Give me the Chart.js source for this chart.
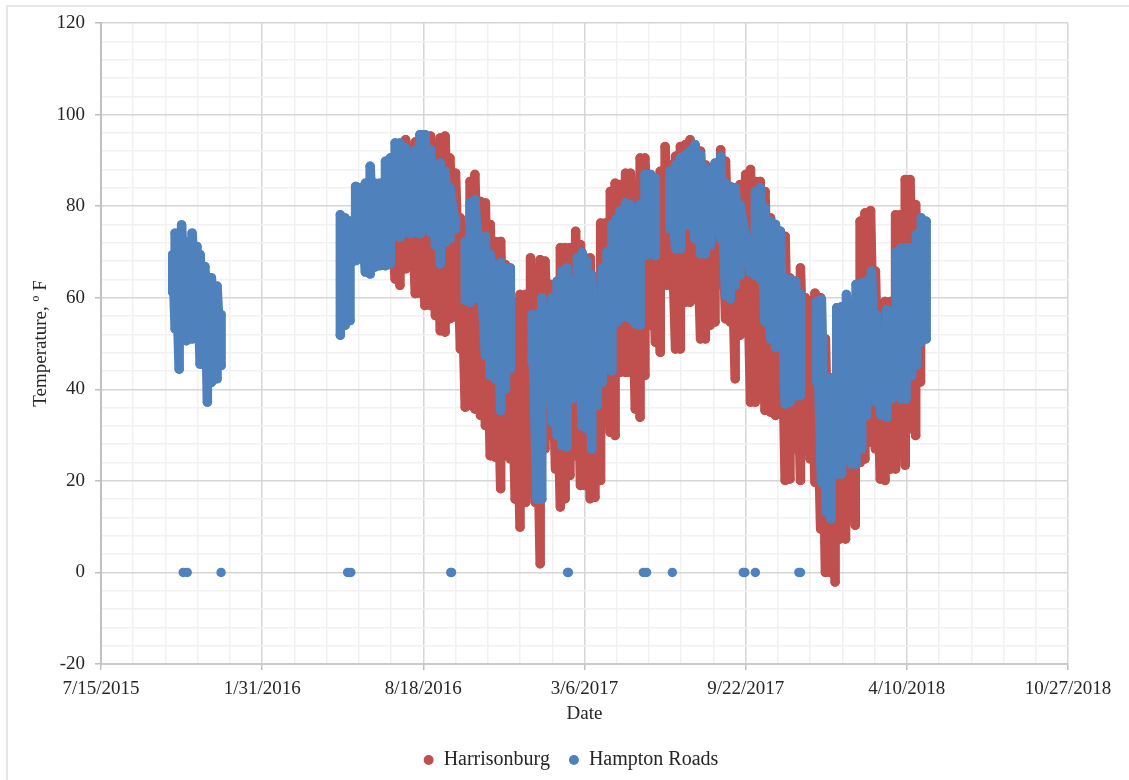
<!DOCTYPE html>
<html>
<head>
<meta charset="utf-8">
<style>
  html, body { margin: 0; background: #fff; overflow: hidden; }
  #wrap { position: relative; width: 1129px; height: 780px; overflow: hidden; }
  #frame { position: absolute; left: 6px; top: 5px; width: 1200px; height: 900px; border: 2px solid #e6e6e6; }
  canvas { position: absolute; left: 0; top: 0; filter: blur(0.4px); }
</style>
</head>
<body>
<div id="wrap">
  <div id="frame"></div>
  <canvas id="chart" width="1129" height="780"></canvas>
</div>
<script src="https://cdn.jsdelivr.net/npm/chart.js@4"></script>
<script>
// x values are Excel date serials, null rows break the line
const harrisonburgDates = [42559,42565,42571,42578,42584,42590,42596,42602,42609,42615,42621,42627,42633,42640,42646,42652,42658,42664,42671,42677,42683,42689,42696,42702,42708,42714,42720,42727,42733,42739,42745,42751,42758,42764,42770,42776,42782,42789,42795,42801,42807,42813,42820,42826,42832,42838,
  42844,42851,42857,42863,42869,42875,42882,42888,42894,42900,42906,42913,42919,42925,42931,42937,42944,42950,42956,42962,42969,42975,42981,42987,42993,43000,43006,43012,43018,43024,43031,43037,43043,43049,43055,43062,43068,43074,43080,43086,43093,43099,43105,43111,43117,43124,43130,43136,43142,43148,43155,43161,43167,43173,43180,43186,43192,43198,43204,43211,43217];
const harrisonburgHigh = [80,90,93,94.5,90,94,95.6,95.2,95.3,92.7,94.9,95.3,90.5,87.2,77.4,75.6,85.4,86.9,81,80.7,76,72.3,72.3,67.2,59,59,60.7,60.7,68.7,58.5,68.3,68,62.9,61,70.9,70.9,70.9,74.5,71.6,68.7,68.7,63.6,76.3,76.3,83.2,85,
  84.7,87.2,87.2,80.3,90.5,90.5,84.7,67,87.6,93,89,90.9,93,93.4,94.5,93.4,92,89,88.3,84.7,92.3,89.8,84,84,84.7,86.9,88,85.4,85.4,83.2,77.4,75.2,74.5,73.4,64.3,63.6,66.5,60,59.2,61,60,51,41,41,41.7,41.7,41.7,41,76.7,78.5,79,65.8,58.5,59.2,59.2,78.1,78.1,85.8,85.8,80.3,68.7];
const harrisonburgLow = [67.4,64.1,62.7,66.3,67,60.9,61,58.3,58.3,56.1,52.8,52.5,55.4,55.8,48.8,36.1,36.5,35.7,34.3,32.1,25.5,25.2,18.3,25.5,24.8,16,9.9,15.3,20.4,15.3,1.9,27,29.9,22.6,14.3,16.1,21.2,25.5,19,19,16.1,16.4,20.1,39.4,30.6,29.9,
  43.7,43.7,43.7,35.7,33.9,43,54,50.3,48.1,62.7,62.7,48.8,48.8,59,59,62.7,51,51,54,54.7,63,55.4,54.7,42.3,51.8,56,37.2,37.2,53,35.4,35,34.3,35.7,20.1,20.4,27,20.1,27,24.8,19.7,9.5,0,0,-2.1,7.3,7.3,16,10.3,24,24.8,28.5,27,20.4,20.1,22.6,22.6,28.5,23.4,31.4,29.9,41.6];

const hamptonDates = [42289,42292,42297,42300,42306,42313,42319,42323,42329,42332,42337,42344,42349, 42420,
  42497,42503,42509,42516,42522,42528,42534,42540,42546,42553,42559,42565,42571,42578,42584,42590,42596,42602,42609,42615,42621,42627,42633,42640, 42646,
  42652,42658,42664,42671,42677,42683,42689,42696,42702,42708, 42720,
  42735,42741,42747,42754,42760,42766,42772,42778,42785,42791,42797,42803,42809,42816,42822,42828,42834,42840,
  42844,42851,42857,42863,42869,42875,42882,42888, 42897,
  42906,42913,42919,42925,42931,42937,42944,42950,42956,42962,42969,42975,42981,42987,42993,43000,43006,43012,43018,43024,43031,43037,43043,43049,43055,43062,43068, 43078,
  43088,43094,43100,43106,43113,43119,43125,43131,43137,43144,43150,43156,43162,43168,43175,43181,43187,43193,43199,43206,43212,43218,43224];
const hamptonHigh = [69.4,74.1,74,75.9,72.3,74.1,71.2,69.4,66.8,64.6,64.3,62.5,56.3, null,
  78.1,77.4,76.7,84.3,84,85,88.7,85,85,89.8,90.5,93.8,93.8,92.7,90.5,92.3,95.6,95.6,92.3,88.3,89.4,87.6,84,77.4, null,
  72.3,80.7,81.4,67.2,73.4,69.4,67.2,67.6,66.5,66.5, null,
  56.3,56.3,60,57.8,60,63.6,65.8,66.5,63.6,68.7,69.8,68,65,57,66.5,70,76,77.4,
  78.9,80.7,80.3,76.7,80.3,86.9,86.9,86.1, null,
  87.6,89,90.5,91.2,92,93.4,91.2,88.3,87.6,89.4,90.9,85,84.3,84,80.3,73.8,72,83.2,84,79.6,76.7,76,74.5,64.3,64,63.6,60.7, null,
  59.2,59.6,41.7,42.5,57.8,58,60.7,57,62.9,63.2,63.6,65.8,56.3,52.7,57.4,53.4,70,70.9,70.9,70.9,73.8,77.4,76.7];
const hamptonLow = [61.2,53.2,44.4,51,50.6,51,54.6,45.5,45.2,37.2,41.5,42.3,45.2, null,
  51.8,54,55,68.1,68.5,65.6,65.2,66.7,67,67,67.4,73.6,73.2,74.3,74,74.3,74,75.4,74.3,71.4,67.4,72.1,72.9,75, null,
  59.4,59,59.8,62.7,47.4,43,42.3,35.4,40,44.5, null,
  46,16,16,39.4,32.8,29.9,27.7,27.4,37.9,43,32,31.4,27,36.5,41.6,49.6,44,54.7,
  55.4,56,55.4,54.3,54,69.2,69.6,69.2, null,
  75,70.7,70.7,75.8,75.8,72.9,69.6,69.6,71.4,75,72.9,60.5,59.8,62.7,64.9,72.9,65.6,64.9,64.1,54.7,51,49.2,49.6,36.8,37.2,38.6,38.6, null,
  41.6,19.7,13.2,11.7,21.5,21.5,27,23.7,23.7,27,34.3,40,37.2,34.3,33.9,37.9,39.4,37.9,37.9,43,45.2,50.3,51];

// sensor dropouts logged as 0 in the Hampton Roads series
const hamptonZeroDates = [42302,42307,42349,42506,42510,42634,42635,42779,42780,42873,42877,42909,42997,42999,43012,43066,43068];
const hamptonZeroValues = [0,0,0,0,0,0,0,0,0,0,0,0,0,0,0,0,0];

const seriesNames = ['Harrisonburg', 'Hampton Roads'];
const xTitle = 'Date';
const yTitle = 'Temperature, º F';

const RED = '#C0504D';
const BLUE = '#4F81BD';
const SERIF = '"Liberation Serif", serif';

// every day's low and high, one after the other
const zigzag = (dates, high, low) => {
  const pts = [];
  dates.forEach((d, i) => {
    if (high[i] === null) { pts.push({ x: d, y: null }); return; }
    pts.push({ x: d, y: low[i] });
    pts.push({ x: d, y: high[i] });
  });
  return pts;
};

const serialToLabel = (s) => {
  const d = new Date(Date.UTC(1899, 11, 30) + s * 86400000);
  return (d.getUTCMonth() + 1) + '/' + d.getUTCDate() + '/' + d.getUTCFullYear();
};

const isMajorX = (v) => (v - 42200) % 200 === 0;
const isMajorY = (v) => v % 20 === 0;

const denseStyle = (color) => ({
  showLine: true,
  borderColor: color,
  backgroundColor: color,
  borderWidth: 9.5,
  borderJoinStyle: 'round',
  borderCapStyle: 'round',
  pointRadius: 4.7,
  pointBorderWidth: 0,
  pointBackgroundColor: color,
  spanGaps: false
});

const moveLegend = {
  id: 'moveLegend',
  afterLayout(chart) {
    chart.legend.left += 22;
    chart.legend.right += 22;
  }
};

new Chart(document.getElementById('chart').getContext('2d'), {
  type: 'scatter',
  data: {
    datasets: [
      Object.assign({ label: seriesNames[0], order: 3, data: zigzag(harrisonburgDates, harrisonburgHigh, harrisonburgLow) }, denseStyle(RED)),
      Object.assign({ label: seriesNames[1], order: 2, data: zigzag(hamptonDates, hamptonHigh, hamptonLow) }, denseStyle(BLUE)),
      {
        label: 'zeros',
        order: 1,
        showLine: false,
        data: hamptonZeroDates.map((d, i) => ({ x: d, y: hamptonZeroValues[i] })),
        pointRadius: 4.7,
        pointBorderWidth: 0,
        backgroundColor: BLUE
      }
    ]
  },
  options: {
    responsive: false,
    animation: false,
    layout: { autoPadding: false, padding: { left: 30, right: 61, top: 23, bottom: 0 } },
    plugins: {
      tooltip: { enabled: false },
      legend: {
        position: 'bottom',
        labels: {
          usePointStyle: true,
          pointStyle: 'circle',
          pointStyleWidth: 10,
          boxHeight: 7,
          padding: 19,
          color: '#262626',
          font: { family: SERIF, size: 20 },
          filter: (item) => item.text !== 'zeros',
          sort: (a, b) => a.datasetIndex - b.datasetIndex
        }
      }
    },
    scales: {
      x: {
        type: 'linear',
        min: 42200,
        max: 43400,
        afterFit: (s) => { s.height = 67; },
        ticks: {
          stepSize: 40,
          autoSkip: false,
          maxRotation: 0,
          padding: 8,
          color: '#262626',
          font: { family: SERIF, size: 19 },
          callback: (v) => isMajorX(v) ? serialToLabel(v) : ''
        },
        grid: {
          tickLength: 6,
          color: (c) => isMajorX(c.tick.value) ? '#d6d6d6' : '#f1f1f1',
          lineWidth: 1.5,
          tickColor: (c) => isMajorX(c.tick.value) ? '#bfbfbf' : 'rgba(0,0,0,0)'
        },
        border: { color: '#cbcbcb', width: 2 },
        title: { display: true, text: xTitle, color: '#262626', font: { family: SERIF, size: 19 }, padding: { top: 0, bottom: 6 } }
      },
      y: {
        min: -20,
        max: 120,
        afterFit: (s) => { s.width = 71; },
        ticks: {
          stepSize: 4,
          autoSkip: false,
          padding: 10,
          color: '#262626',
          font: { family: SERIF, size: 19 },
          callback: (v) => isMajorY(v) ? String(v) : ''
        },
        grid: {
          tickLength: 6,
          color: (c) => isMajorY(c.tick.value) ? '#d6d6d6' : '#f1f1f1',
          lineWidth: 1.5,
          tickColor: (c) => isMajorY(c.tick.value) ? '#bfbfbf' : 'rgba(0,0,0,0)'
        },
        border: { color: '#c0c0c0', width: 2 },
        title: { display: true, text: yTitle, color: '#262626', font: { family: SERIF, size: 19 }, padding: 0 }
      }
    }
  },
  plugins: [moveLegend]
});
</script>
</body>
</html>
